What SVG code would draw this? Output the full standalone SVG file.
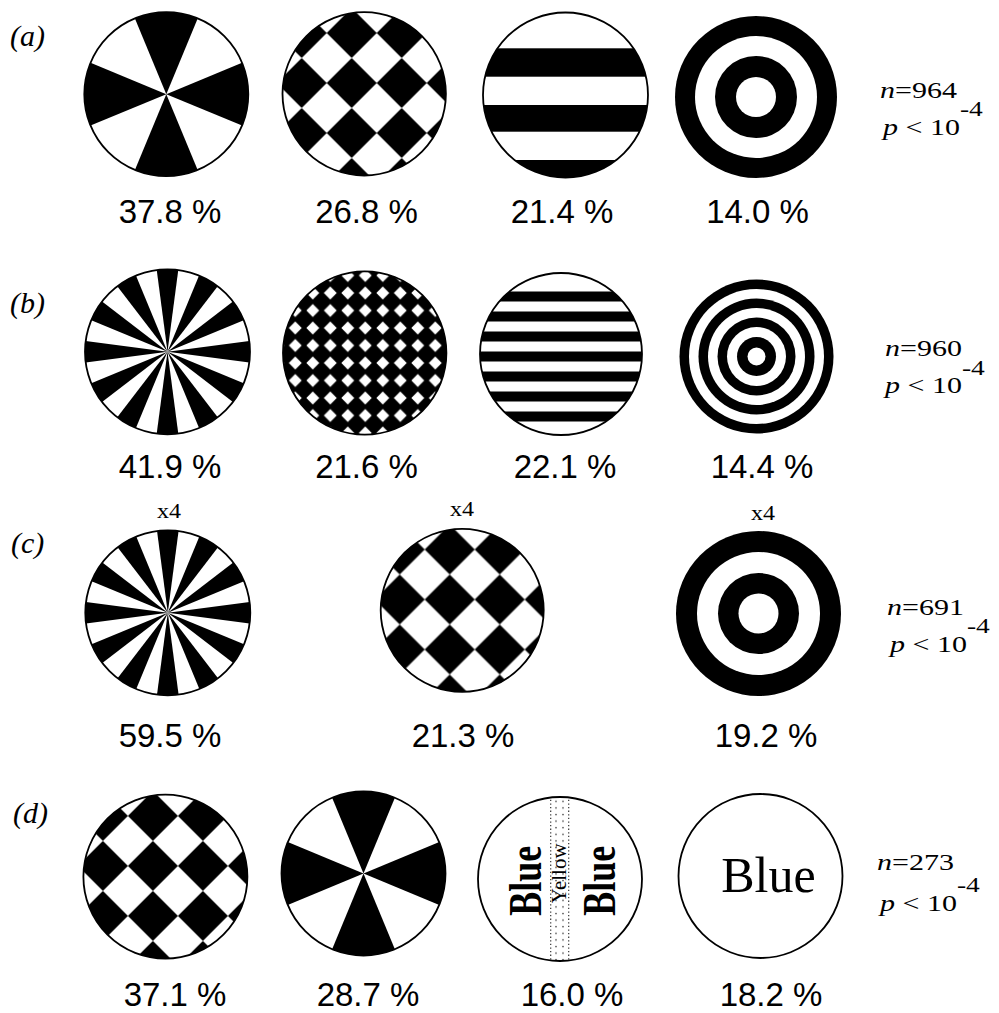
<svg xmlns="http://www.w3.org/2000/svg" width="999" height="1013" viewBox="0 0 999 1013">
<style>
text{fill:#000}
.pct{font-family:"Liberation Sans",Arial,Helvetica,sans-serif;font-size:33px;text-anchor:middle}
.ser{font-family:"Liberation Serif","Times New Roman",serif}
.tag{font-style:italic;font-size:30px}
.stat{font-size:24px}
.it{font-style:italic}
.x4{font-size:20px;text-anchor:middle}
.ol{fill:none;stroke:#000;stroke-width:1.8}
.bk{fill:#000}
.wh{fill:#fff}
</style>
<defs>
<pattern id="chk" patternUnits="userSpaceOnUse" x="12.5" y="14.2" width="50" height="50"><rect width="50" height="50" fill="#fff"/><path d="M25 0L50 25L25 50L0 25Z" fill="#000"/></pattern>
<pattern id="fchk" patternUnits="userSpaceOnUse" x="-8.15" y="1.25" width="17.5" height="17.5"><rect width="17.5" height="17.5" fill="#000"/><path d="M8.75 2.3L15.2 8.75L8.75 15.2L2.3 8.75Z" fill="#fff"/></pattern>
<pattern id="dots" patternUnits="userSpaceOnUse" x="-5" y="0" width="7" height="6.6"><circle cx="1" cy="1.5" r="0.85" fill="#444"/></pattern>
<path id="w8" d="M0 0L-31.38-75.76A82 82 0 0 1 31.38-75.76Z"/>
<path id="w24" d="M0 0L-10.77-81.79A82.5 82.5 0 0 1 10.77-81.79Z"/>
<g id="pw8"><use href="#w8"/><use href="#w8" transform="rotate(90)"/><use href="#w8" transform="rotate(180)"/><use href="#w8" transform="rotate(270)"/></g>
<g id="pw24"><use href="#w24"/><use href="#w24" transform="rotate(30)"/><use href="#w24" transform="rotate(60)"/><use href="#w24" transform="rotate(90)"/><use href="#w24" transform="rotate(120)"/><use href="#w24" transform="rotate(150)"/><use href="#w24" transform="rotate(180)"/><use href="#w24" transform="rotate(210)"/><use href="#w24" transform="rotate(240)"/><use href="#w24" transform="rotate(270)"/><use href="#w24" transform="rotate(300)"/><use href="#w24" transform="rotate(330)"/></g>
<clipPath id="c82"><circle r="82"/></clipPath>
<clipPath id="c825"><circle r="82.5"/></clipPath>
<clipPath id="c81"><circle r="81"/></clipPath>
</defs>
<rect width="999" height="1013" fill="#fff"/>

<!-- row labels -->
<g id="tags" class="ser tag">
<text x="10" y="46">(a)</text>
<text x="10" y="313">(b)</text>
<text x="11" y="553">(c)</text>
<text x="13" y="823">(d)</text>
</g>

<!-- row a -->
<g id="a1">
<g transform="translate(166.3,94.2)"><circle r="82" class="wh"/><use href="#pw8"/><circle r="82" class="ol"/></g>
<text class="pct" x="170" y="223">37.8 %</text>
</g>
<g id="a2">
<g transform="translate(364.2,93.8)"><circle r="81.7" fill="url(#chk)"/><circle r="81.7" class="ol"/></g>
<text class="pct" x="366.5" y="223">26.8 %</text>
</g>
<g id="a3">
<g transform="translate(565.5,95)"><circle r="82.5" class="wh"/><g clip-path="url(#c825)" class="bk"><rect x="-90" y="-46.7" width="180" height="28.4"/><rect x="-90" y="10" width="180" height="26.7"/><rect x="-90" y="65" width="180" height="30"/></g><circle r="82.5" class="ol"/></g>
<text class="pct" x="562" y="223">21.4 %</text>
</g>
<g id="a4">
<g transform="translate(756,97)"><circle r="81" class="bk"/><circle r="61" class="wh"/><circle r="41" class="bk"/><circle r="20" class="wh"/></g>
<text class="pct" x="757.5" y="223">14.0 %</text>
</g>
<g id="stat-a" class="ser stat" transform="translate(880,98) scale(1.25,1)">
<text x="0" y="0"><tspan class="it">n</tspan>=964</text>
<text x="2.4" y="37"><tspan class="it">p</tspan> &lt; 10<tspan dy="-19" font-size="22">-4</tspan></text>
</g>

<!-- row b -->
<g id="b1">
<g transform="translate(167.5,351.8)"><circle r="82.5" class="wh"/><use href="#pw24"/><circle r="82.5" class="ol"/></g>
<text class="pct" x="170" y="478">41.9 %</text>
</g>
<g id="b2">
<g transform="translate(364.7,353)"><circle r="81.7" fill="url(#fchk)"/><circle r="81.7" class="ol"/></g>
<text class="pct" x="366.5" y="478">21.6 %</text>
</g>
<g id="b3">
<g transform="translate(561,354)"><circle r="81" class="wh"/><g clip-path="url(#c81)" class="bk"><rect x="-90" y="-62.5" width="180" height="10"/><rect x="-90" y="-42.5" width="180" height="10"/><rect x="-90" y="-22.5" width="180" height="10"/><rect x="-90" y="-2.5" width="180" height="10"/><rect x="-90" y="17.5" width="180" height="10"/><rect x="-90" y="37.5" width="180" height="10"/><rect x="-90" y="57.5" width="180" height="10"/></g><circle r="81" class="ol"/></g>
<text class="pct" x="565" y="478">22.1 %</text>
</g>
<g id="b4">
<g transform="translate(756.5,356.5)"><circle r="77" class="bk"/><circle r="67.5" class="wh"/><circle r="58" class="bk"/><circle r="48.5" class="wh"/><circle r="39" class="bk"/><circle r="29.5" class="wh"/><circle r="19.5" class="bk"/><circle r="9" class="wh"/></g>
<text class="pct" x="762" y="478">14.4 %</text>
</g>
<g id="stat-b" class="ser stat" transform="translate(885,356) scale(1.25,1)">
<text x="0" y="0"><tspan class="it">n</tspan>=960</text>
<text x="0" y="37.5"><tspan class="it">p</tspan> &lt; 10<tspan dy="-19" font-size="22">-4</tspan></text>
</g>

<!-- row c -->
<g id="c1">
<text class="ser x4" transform="translate(169,518) scale(1.2,1)">x4</text>
<g transform="translate(167.8,612.8)"><circle r="82.5" class="wh"/><use href="#pw24"/><circle r="82.5" class="ol"/></g>
<text class="pct" x="170" y="747">59.5 %</text>
</g>
<g id="c2">
<text class="ser x4" transform="translate(462,516) scale(1.2,1)">x4</text>
<g transform="translate(462.2,610.3)"><circle r="81.5" fill="url(#chk)"/><circle r="81.5" class="ol"/></g>
<text class="pct" x="463" y="747">21.3 %</text>
</g>
<g id="c3">
<text class="ser x4" transform="translate(763,520) scale(1.2,1)">x4</text>
<g transform="translate(758.5,613.5)"><circle r="82.5" class="bk"/><circle r="61.5" class="wh"/><circle r="40.5" class="bk"/><circle r="20" class="wh"/></g>
<text class="pct" x="766" y="747">19.2 %</text>
</g>
<g id="stat-c" class="ser stat" transform="translate(887,615) scale(1.25,1)">
<text x="0" y="0"><tspan class="it">n</tspan>=691</text>
<text x="2.4" y="37"><tspan class="it">p</tspan> &lt; 10<tspan dy="-19" font-size="22">-4</tspan></text>
</g>

<!-- row d -->
<g id="d1">
<g transform="translate(165.4,876.7)"><circle r="82" fill="url(#chk)"/><circle r="82" class="ol"/></g>
<text class="pct" x="175" y="1006">37.1 %</text>
</g>
<g id="d2">
<g transform="translate(363.5,873.5)"><circle r="82" class="wh"/><use href="#pw8"/><circle r="82" class="ol"/></g>
<text class="pct" x="368" y="1006">28.7 %</text>
</g>
<g id="d3">
<g transform="translate(560,879)">
<circle r="82" class="wh"/>
<g clip-path="url(#c82)">
<line x1="-9.3" y1="-90" x2="-9.3" y2="90" stroke="#333" stroke-width="1.2" stroke-dasharray="1.3 2.3"/>
<line x1="8.7" y1="-90" x2="8.7" y2="90" stroke="#333" stroke-width="1.2" stroke-dasharray="1.3 2.3"/>
<rect x="-7" y="-90" width="14" height="180" fill="url(#dots)"/>
</g>
<text class="ser" font-weight="bold" font-size="36" text-anchor="middle" transform="translate(-18.7,1.8) rotate(-90) scale(1,1.3)">Blue</text>
<text class="ser" font-weight="bold" font-size="36" text-anchor="middle" transform="translate(54.7,1.8) rotate(-90) scale(1,1.3)">Blue</text>
<text class="ser" font-size="21" text-anchor="middle" transform="translate(6.3,-5.7) rotate(-90)">Yellow</text>
<circle r="82" class="ol"/>
</g>
<text class="pct" x="572" y="1006">16.0 %</text>
</g>
<g id="d4">
<g transform="translate(760.5,876)"><circle r="82" class="wh"/><circle r="82" class="ol"/></g>
<text class="ser" font-size="50" text-anchor="middle" x="768.4" y="891.7">Blue</text>
<text class="pct" x="771" y="1006">18.2 %</text>
</g>
<g id="stat-d" class="ser stat" transform="translate(877,870) scale(1.25,1)">
<text x="0" y="0"><tspan class="it">n</tspan>=273</text>
<text x="2.4" y="41"><tspan class="it">p</tspan> &lt; 10<tspan dy="-19" font-size="22">-4</tspan></text>
</g>
</svg>
